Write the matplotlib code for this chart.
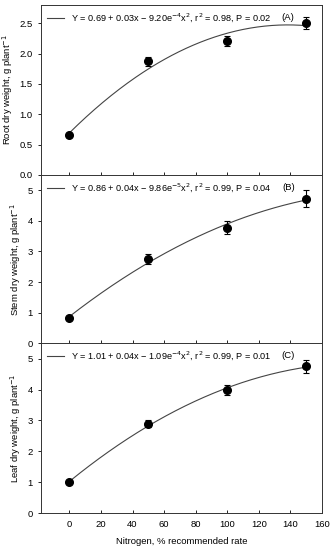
import numpy as np
import matplotlib.pyplot as plt

plt.rcParams['font.family'] = ['Liberation Sans', 'DejaVu Sans']

# data
nitrogen = [0, 50, 100, 150]
root = [0.65, 1.87, 2.21, 2.50]
root_err = [0.03, 0.07, 0.08, 0.10]
stem = [0.83, 2.75, 3.78, 4.72]
stem_err = [0.05, 0.15, 0.20, 0.28]
leaf = [1.00, 2.90, 3.98, 4.75]
leaf_err = [0.05, 0.12, 0.17, 0.22]

ylabels = ['Root dry weight, g plant$^{-1}$',
           'Stem dry weight, g plant$^{-1}$',
           'Leaf dry weight, g plant$^{-1}$']
eqs = ['Y = 0.69 + 0.03x \u2212 9.20e$^{-4}$x$^{2}$, r$^{2}$ = 0.98, P = 0.02',
       'Y = 0.86 + 0.04x \u2212 9.86e$^{-5}$x$^{2}$, r$^{2}$ = 0.99, P = 0.04',
       'Y = 1.01 + 0.04x \u2212 1.09e$^{-4}$x$^{2}$, r$^{2}$ = 0.99, P = 0.01']
tags = ['(A)', '(B)', '(C)']
ylims = [(0, 2.8), (0, 5.5), (0, 5.5)]
yticks = [[0.0, 0.5, 1.0, 1.5, 2.0, 2.5], [0, 1, 2, 3, 4, 5], [0, 1, 2, 3, 4, 5]]
series = [(root, root_err), (stem, stem_err), (leaf, leaf_err)]

fig = plt.figure(figsize=(3.33, 5.5), dpi=100)
bounds = [(0.682, 0.991), (0.376, 0.682), (0.067, 0.376)]

xs = np.linspace(0, 150, 200)
for i, (vals, errs) in enumerate(series):
    b, t = bounds[i]
    ax = fig.add_axes([0.123, b, 0.844, t - b])
    coef = np.polyfit(nitrogen, vals, 2)
    ax.plot(xs, np.polyval(coef, xs), color='#444444', lw=0.8, label=eqs[i])
    ax.errorbar(nitrogen, vals, yerr=errs, fmt='o', color='black', ms=5.5,
                elinewidth=0.8, capsize=2.5, capthick=0.8)
    ax.set_xlim(-18, 160)
    ax.set_ylim(*ylims[i])
    ax.set_yticks(yticks[i])
    if i == 0:
        ax.set_yticklabels(['%.1f' % v for v in yticks[i]])
    ax.set_xticks(range(0, 161, 20))
    ax.tick_params(axis='x', direction='in', length=2.5, width=0.6)
    ax.tick_params(axis='y', direction='out', length=2.5, width=0.6, labelsize=6.8)
    if i < 2:
        ax.tick_params(axis='x', labelbottom=False)
    else:
        ax.tick_params(axis='x', labelsize=6.8, pad=5)
        ax.set_xlabel('Nitrogen, % recommended rate', fontsize=6.8, labelpad=6)
    ax.set_ylabel(ylabels[i], fontsize=6.8, labelpad=3)
    for s in ax.spines.values():
        s.set_linewidth(0.7)
        s.set_color('#333333')
    ax.legend(loc='upper left', frameon=False, fontsize=6.6, handlelength=1.8,
              handletextpad=0.8, borderaxespad=0.3)
    ax.text(0.88, 0.925, tags[i], transform=ax.transAxes, fontsize=6.8,
            va='center', ha='center')

fig.savefig('out.png', dpi=100)
